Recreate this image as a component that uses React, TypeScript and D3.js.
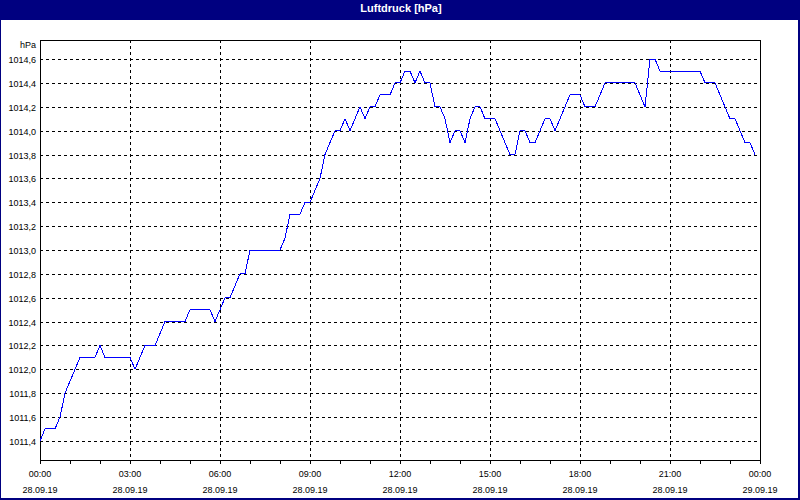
import React, { useEffect, useRef } from 'react'
import * as d3 from 'd3'

// Luftdruck 28.09.19, one reading every 10 minutes from 00:00 to 23:50
const pressure: number[] = [
    // 00:00 - 02:50
    1011.4, 1011.5, 1011.5, 1011.5, 1011.6, 1011.8, 1011.9, 1012.0, 1012.1, 1012.1, 1012.1, 1012.1,
    1012.2, 1012.1, 1012.1, 1012.1, 1012.1, 1012.1,
    // 03:00 - 05:50
    1012.1, 1012.0, 1012.1, 1012.2, 1012.2, 1012.2, 1012.3, 1012.4, 1012.4, 1012.4, 1012.4, 1012.4,
    1012.5, 1012.5, 1012.5, 1012.5, 1012.5, 1012.4,
    // 06:00 - 08:50
    1012.5, 1012.6, 1012.6, 1012.7, 1012.8, 1012.8, 1013.0, 1013.0, 1013.0, 1013.0, 1013.0, 1013.0,
    1013.0, 1013.1, 1013.3, 1013.3, 1013.3, 1013.4,
    // 09:00 - 11:50
    1013.4, 1013.5, 1013.6, 1013.8, 1013.9, 1014.0, 1014.0, 1014.1, 1014.0, 1014.1, 1014.2, 1014.1,
    1014.2, 1014.2, 1014.3, 1014.3, 1014.3, 1014.4,
    // 12:00 - 14:50
    1014.4, 1014.5, 1014.5, 1014.4, 1014.5, 1014.4, 1014.4, 1014.2, 1014.2, 1014.1, 1013.9, 1014.0,
    1014.0, 1013.9, 1014.1, 1014.2, 1014.2, 1014.1,
    // 15:00 - 17:50
    1014.1, 1014.1, 1014.0, 1013.9, 1013.8, 1013.8, 1014.0, 1014.0, 1013.9, 1013.9, 1014.0, 1014.1,
    1014.1, 1014.0, 1014.1, 1014.2, 1014.3, 1014.3,
    // 18:00 - 20:50
    1014.3, 1014.2, 1014.2, 1014.2, 1014.3, 1014.4, 1014.4, 1014.4, 1014.4, 1014.4, 1014.4, 1014.4,
    1014.3, 1014.2, 1014.6, 1014.6, 1014.5, 1014.5,
    // 21:00 - 23:50
    1014.5, 1014.5, 1014.5, 1014.5, 1014.5, 1014.5, 1014.5, 1014.4, 1014.4, 1014.4, 1014.3, 1014.2,
    1014.1, 1014.1, 1014.0, 1013.9, 1013.9, 1013.8,
]

const yTicks: number[] = [1011.4, 1011.6, 1011.8, 1012.0, 1012.2, 1012.4, 1012.6, 1012.8,
    1013.0, 1013.2, 1013.4, 1013.6, 1013.8, 1014.0, 1014.2, 1014.4, 1014.6]
const xTimeLabels: string[] = ['00:00', '03:00', '06:00', '09:00', '12:00', '15:00', '18:00', '21:00', '00:00']
const xDateLabels: string[] = ['28.09.19', '28.09.19', '28.09.19', '28.09.19', '28.09.19',
    '28.09.19', '28.09.19', '28.09.19', '29.09.19']

const navy = '#000080'
const font = '"Liberation Sans", Arial, sans-serif'

export default function App() {
    const ref = useRef<SVGSVGElement>(null)

    useEffect(() => {
        const svg = d3.select(ref.current)
        svg.selectAll('*').remove()

        const left = 40, right = 760, top = 40, bottom = 460

        // minutes since midnight
        const x = d3.scaleLinear().domain([0, 24 * 60]).range([left, right])
        const y = d3.scaleLinear().domain([1011.24, 1014.76]).range([bottom, top])

        // frame + title bar
        svg.append('rect').attr('width', 800).attr('height', 500).attr('fill', navy)
        svg.append('rect').attr('x', 1).attr('y', 20).attr('width', 797).attr('height', 478).attr('fill', 'white')
        svg.append('text')
            .attr('x', 401).attr('y', 12)
            .attr('text-anchor', 'middle')
            .style('font', 'bold 11px ' + font)
            .attr('fill', 'white')
            .text('Luftdruck [hPa]')

        const g = svg.append('g').attr('shape-rendering', 'crispEdges')

        // horizontal grid
        yTicks.forEach(v => {
            const yy = Math.round(y(v)) + 0.5
            g.append('line')
                .attr('x1', left).attr('x2', right)
                .attr('y1', yy).attr('y2', yy)
                .attr('stroke', 'black').attr('stroke-dasharray', '3,3')
            svg.append('text')
                .attr('x', 36).attr('y', yy + 3.5)
                .attr('text-anchor', 'end')
                .style('font', '9px ' + font)
                .text(v.toFixed(1).replace('.', ','))
        })
        svg.append('text')
            .attr('x', 36).attr('y', 48)
            .attr('text-anchor', 'end')
            .style('font', '9px ' + font)
            .text('hPa')

        // vertical grid every 3 hours, small ticks every hour
        for (let h = 0; h <= 24; h++) {
            const xx = Math.round(x(h * 60)) + 0.5
            g.append('line')
                .attr('x1', xx).attr('x2', xx)
                .attr('y1', bottom).attr('y2', bottom + 4)
                .attr('stroke', 'black')
            if (h % 3 === 0 && h > 0 && h < 24) {
                g.append('line')
                    .attr('x1', xx).attr('x2', xx)
                    .attr('y1', top).attr('y2', bottom)
                    .attr('stroke', 'black').attr('stroke-dasharray', '3,3')
            }
        }
        xTimeLabels.forEach((t, i) => {
            const xx = x(i * 180)
            svg.append('text').attr('x', xx).attr('y', 477)
                .attr('text-anchor', 'middle').style('font', '9px ' + font).text(t)
            svg.append('text').attr('x', xx).attr('y', 493)
                .attr('text-anchor', 'middle').style('font', '9px ' + font).text(xDateLabels[i])
        })

        // plot frame
        g.append('rect')
            .attr('x', left + 0.5).attr('y', top + 0.5)
            .attr('width', right - left).attr('height', bottom - top)
            .attr('fill', 'none').attr('stroke', 'black')

        const line = d3.line<number>()
            .x((_, i) => x(i * 10))
            .y(d => y(d))

        svg.append('path')
            .datum(pressure)
            .attr('d', line)
            .attr('fill', 'none')
            .attr('stroke', '#0000ff')
            .attr('stroke-width', 1)
            .attr('shape-rendering', 'crispEdges')
    }, [])

    return (
        <svg ref={ref} width={800} height={500}
            style={{ position: 'absolute', left: 0, top: 0, display: 'block' }} />
    )
}
